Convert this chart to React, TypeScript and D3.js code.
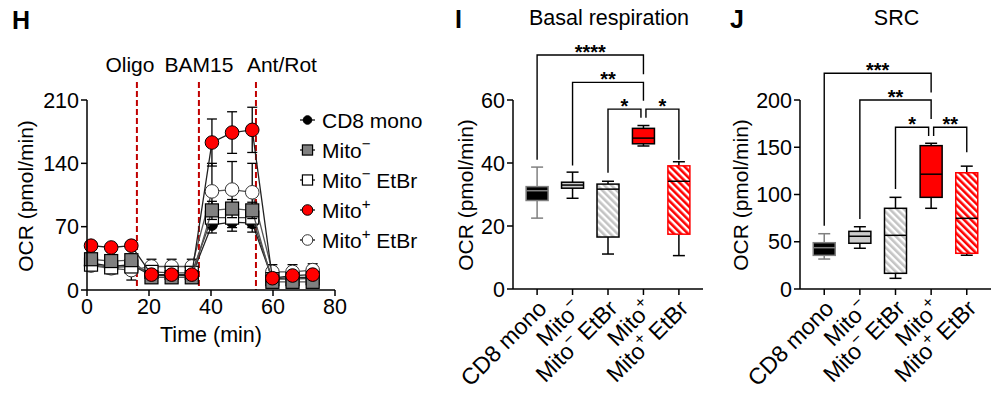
import React from "react";
import * as d3 from "d3";

const FONT = "'Liberation Sans', Arial, Helvetica, sans-serif";

// ---- panel H: OCR time course ----
const times = [1.3, 7.8, 14.3, 20.8, 27.3, 33.8, 40.3, 46.8, 53.3, 59.8, 66.3, 72.8];
const cd8Mean = [30, 26, 28, 16, 16, 16, 72, 75, 74, 12, 14, 14];
const cd8Sd = [4, 5, 5, 3, 3, 3, 9, 10, 10, 4, 4, 4];
const mitoNegMean = [34, 32, 33, 14, 14, 14, 88, 90, 88, 9, 9, 9];
const mitoNegSd = [5, 6, 4, 4, 4, 4, 10, 10, 9, 4, 4, 4];
const mitoNegEtbrMean = [28, 25, 26, 20, 19, 19, 80, 80, 80, 12, 12, 13];
const mitoNegEtbrSd = [4, 5, 5, 4, 4, 4, 11, 11, 11, 4, 4, 4];
const mitoPosMean = [49, 47, 49, 17, 17, 17, 163, 174, 177, 13, 16, 17];
const mitoPosSd = [3, 3, 3, 3, 3, 3, 26, 23, 25, 4, 4, 4];
const mitoPosEtbrMean = [27, 24, 22, 26, 26, 26, 109, 111, 108, 20, 20, 22];
const mitoPosEtbrSd = [5, 6, 11, 8, 8, 8, 31, 31, 32, 8, 8, 7];
const injectTimes = [16.1, 36.1, 54.5];
const injectLabels = ["Oligo", "BAM15", "Ant/Rot"];
const injectLabelShift = [-7, 0, 26];
const timeTicks = [0, 20, 40, 60, 80];
const ocrTicks = [0, 70, 140, 210];

// ---- panels I / J: box plots ----
const groups = ["CD8 mono", "Mito^-", "Mito^- EtBr", "Mito^+", "Mito^+ EtBr"];
const basalMin = [22.5, 28.8, 11.1, 45.4, 10.6];
const basalQ1 = [28.1, 32.0, 16.5, 46.1, 17.4];
const basalMed = [31.2, 33.0, 31.7, 47.9, 34.2];
const basalQ3 = [32.5, 33.9, 33.3, 51.0, 39.1];
const basalMax = [38.7, 37.1, 34.2, 51.9, 40.4];
const basalTicks = [0, 20, 40, 60];

const srcMin = [31.7, 43.1, 11.3, 85.4, 35.7];
const srcQ1 = [35.6, 48.4, 16.6, 97.0, 37.8];
const srcMed = [43.7, 55.8, 56.8, 121.5, 74.8];
const srcQ3 = [49.0, 61.0, 85.4, 151.7, 123.0];
const srcMax = [58.5, 65.9, 97.0, 154.2, 130.0];
const srcTicks = [0, 50, 100, 150, 200];

// significance brackets: [from, to, label, bar level, left leg end, right leg end]
const basalSig = [
  [0, 3, "****", 74.3, 41, 68.2],
  [1, 3, "**", 65.6, 39.2, 59.8],
  [2, 3, "*", 57.1, 36.9, 54.4],
  [3, 4, "*", 57.1, 54.4, 41],
];
const srcSig = [
  [0, 3, "***", 228.3, 67, 208],
  [1, 3, "**", 200, 74, 180],
  [2, 3, "*", 171.1, 105.8, 161.9],
  [3, 4, "**", 171.1, 161.9, 144.7],
];

const supText = (s, fs) => {
  const m = s.match(/^(.*?)\^([+-])(.*)$/);
  if (!m) return s;
  const sh = fs * 0.42;
  return [
    <tspan key="a">{m[1]}</tspan>,
    <tspan key="b" dy={-sh} fontSize={fs * 0.72}>{m[2] === "-" ? "\u2212" : "+"}</tspan>,
    <tspan key="c" dy={sh}>{m[3]}</tspan>,
  ];
};

const Marker = ({ kind, x, y, s = 1 }) => {
  if (kind === "cd8") return <circle cx={x} cy={y} r={5.5 * s} fill="#000" stroke="#000" />;
  if (kind === "neg") return <rect x={x - 6.5 * s} y={y - 6.5 * s} width={13 * s} height={13 * s} fill="#808080" stroke="#000" strokeWidth={1.2} />;
  if (kind === "negE") return <rect x={x - 6.5 * s} y={y - 6.5 * s} width={13 * s} height={13 * s} fill="#fff" stroke="#000" strokeWidth={1.2} />;
  if (kind === "pos") return <circle cx={x} cy={y} r={6.8 * s} fill="#ff0000" stroke="#000" strokeWidth={1} />;
  return <circle cx={x} cy={y} r={6.8 * s} fill="#fff" stroke="#333" strokeWidth={1} />;
};

const series = [
  { kind: "posE", name: "Mito^+ EtBr", mean: mitoPosEtbrMean, sd: mitoPosEtbrSd, line: "#555" },
  { kind: "cd8", name: "CD8 mono", mean: cd8Mean, sd: cd8Sd, line: "#222" },
  { kind: "negE", name: "Mito^- EtBr", mean: mitoNegEtbrMean, sd: mitoNegEtbrSd, line: "#444" },
  { kind: "neg", name: "Mito^-", mean: mitoNegMean, sd: mitoNegSd, line: "#555" },
  { kind: "pos", name: "Mito^+", mean: mitoPosMean, sd: mitoPosSd, line: "#222" },
];
const legendOrder = ["cd8", "neg", "negE", "pos", "posE"];

const TimeCourse = () => {
  const x = d3.scaleLinear().domain([0, 80]).range([87, 335]);
  const y = d3.scaleLinear().domain([0, 210]).range([290, 100]);
  const line = d3.line().x((d) => x(d[0])).y((d) => y(d[1]));
  return (
    <g>
      <text x={12} y={29} fontSize={25} fontWeight="bold">H</text>
      {injectTimes.map((t, i) => (
        <g key={i}>
          <line x1={x(t)} x2={x(t)} y1={82} y2={290} stroke="#c00000" strokeWidth={2} strokeDasharray="6,3" />
          <text x={x(t) + injectLabelShift[i]} y={72} fontSize={21} textAnchor="middle">{injectLabels[i]}</text>
        </g>
      ))}
      {series.map((s) => {
        const pts = times.map((t, i) => [t, s.mean[i]]);
        return (
          <g key={s.kind}>
            <path d={line(pts)} fill="none" stroke={s.line} strokeWidth={1.3} />
            {times.map((t, i) => (
              <g key={i} stroke="#000" strokeWidth={1.3}>
                <line x1={x(t)} x2={x(t)} y1={y(s.mean[i] + s.sd[i])} y2={y(s.mean[i] - s.sd[i])} />
                <line x1={x(t) - 5} x2={x(t) + 5} y1={y(s.mean[i] + s.sd[i])} y2={y(s.mean[i] + s.sd[i])} />
                <line x1={x(t) - 5} x2={x(t) + 5} y1={y(s.mean[i] - s.sd[i])} y2={y(s.mean[i] - s.sd[i])} />
              </g>
            ))}
            {times.map((t, i) => (
              <Marker key={"m" + i} kind={s.kind} x={x(t)} y={y(s.mean[i])} />
            ))}
          </g>
        );
      })}
      {/* axes */}
      <line x1={87} x2={87} y1={100} y2={290} stroke="#000" strokeWidth={1.5} />
      <line x1={87} x2={335} y1={290} y2={290} stroke="#000" strokeWidth={1.5} />
      {ocrTicks.map((v) => (
        <g key={v}>
          <line x1={81} x2={87} y1={y(v)} y2={y(v)} stroke="#000" strokeWidth={1.5} />
          <text x={79} y={y(v)} dy="0.36em" fontSize={21.5} textAnchor="end">{v}</text>
        </g>
      ))}
      {timeTicks.map((v) => (
        <g key={v}>
          <line x1={x(v)} x2={x(v)} y1={290} y2={296} stroke="#000" strokeWidth={1.5} />
          <text x={x(v)} y={314} fontSize={21.5} textAnchor="middle">{v}</text>
        </g>
      ))}
      <text x={211} y={342} fontSize={21.5} textAnchor="middle">Time (min)</text>
      <text transform="translate(33,196) rotate(-90)" fontSize={21} textAnchor="middle">OCR (pmol/min)</text>
      {/* legend */}
      {legendOrder.map((k, i) => {
        const s = series.find((d) => d.kind === k);
        const ly = 120 + i * 30;
        return (
          <g key={k}>
            <line x1={300} x2={315} y1={ly} y2={ly} stroke="#000" strokeWidth={1.2} />
            <Marker kind={k} x={307.5} y={ly} s={0.78} />
            <text x={322} y={ly + 7.5} fontSize={21}>{supText(s.name, 21)}</text>
          </g>
        );
      })}
    </g>
  );
};

const boxStyle = [
  { fill: "#000", stroke: "#808080", whisker: "#808080" },
  { fill: "#cccccc", stroke: "#000", whisker: "#000" },
  { fill: "url(#hatchGray)", stroke: "#000", whisker: "#000" },
  { fill: "#ff0000", stroke: "#000", whisker: "#000" },
  { fill: "url(#hatchRed)", stroke: "#ff0000", whisker: "#000" },
];

const BoxPanel = ({ letter, letterX, title, x0, x1, yMax, ticks, lo, q1, med, q3, hi, sig, ylabX }) => {
  const x = d3.scalePoint().domain(groups).range([x0, x1]).padding(0.68);
  const y = d3.scaleLinear().domain([0, yMax]).range([289, 100]);
  const bw = 22;
  return (
    <g>
      <text x={letterX} y={28} fontSize={25} fontWeight="bold">{letter}</text>
      <text x={(x0 + x1) / 2 + 1} y={25} fontSize={21.5} textAnchor="middle">{title}</text>
      {groups.map((g, i) => {
        const cx = x(g);
        const st = boxStyle[i];
        return (
          <g key={g}>
            <line x1={cx} x2={cx} y1={y(lo[i])} y2={y(hi[i])} stroke={st.whisker} strokeWidth={1.5} />
            <line x1={cx - 6} x2={cx + 6} y1={y(lo[i])} y2={y(lo[i])} stroke={st.whisker} strokeWidth={1.5} />
            <line x1={cx - 6} x2={cx + 6} y1={y(hi[i])} y2={y(hi[i])} stroke={st.whisker} strokeWidth={1.5} />
            <rect x={cx - bw / 2} y={y(q3[i])} width={bw} height={y(q1[i]) - y(q3[i])} fill={st.fill} stroke={st.stroke} strokeWidth={1.5} />
            <line x1={cx - bw / 2} x2={cx + bw / 2} y1={y(med[i])} y2={y(med[i])} stroke={i === 0 ? "#808080" : "#000"} strokeWidth={1.5} />
          </g>
        );
      })}
      {sig.map((b, k) => {
        const [a, c, lab, lvl, lEnd, rEnd] = b;
        const shared = sig.some((o, j) => j !== k && (o[0] === c || o[1] === a) && o[3] === lvl);
        const xa = x(groups[a]) + (shared && a === 3 ? 2.5 : 0);
        const xc = x(groups[c]) - (shared && c === 3 ? 2.5 : 0);
        return (
          <g key={k}>
            <path d={`M${xa},${y(lEnd)}V${y(lvl)}H${xc}V${y(rEnd)}`} fill="none" stroke="#000" strokeWidth={1.4} />
            <text x={(xa + xc) / 2} y={y(lvl) + 4} fontSize={20} fontWeight="bold" textAnchor="middle">{lab}</text>
          </g>
        );
      })}
      <line x1={x0} x2={x0} y1={100} y2={289} stroke="#000" strokeWidth={1.5} />
      <line x1={x0} x2={x1} y1={289} y2={289} stroke="#000" strokeWidth={1.5} />
      {ticks.map((v) => (
        <g key={v}>
          <line x1={x0 - 6} x2={x0} y1={y(v)} y2={y(v)} stroke="#000" strokeWidth={1.5} />
          <text x={x0 - 8} y={y(v)} dy="0.36em" fontSize={21.5} textAnchor="end">{v}</text>
        </g>
      ))}
      {groups.map((g) => (
        <g key={g}>
          <line x1={x(g)} x2={x(g)} y1={289} y2={295} stroke="#000" strokeWidth={1.5} />
          <text transform={`translate(${x(g) + 5},${304}) rotate(-45)`} fontSize={23} textAnchor="end" dy="0.36em">
            {supText(g, 23)}
          </text>
        </g>
      ))}
      <text transform={`translate(${ylabX},195) rotate(-90)`} fontSize={21} textAnchor="middle">OCR (pmol/min)</text>
    </g>
  );
};

export default function App() {
  return (
    <svg width={1006} height={398} style={{ position: "absolute", left: 0, top: 0, background: "#fff" }} fontFamily={FONT}>
      <defs>
        <pattern id="hatchGray" patternUnits="userSpaceOnUse" width={5} height={5} patternTransform="rotate(-45)">
          <rect width={5} height={5} fill="#fff" />
          <rect width={2.6} height={5} fill="#c4c4c4" />
        </pattern>
        <pattern id="hatchRed" patternUnits="userSpaceOnUse" width={5} height={5} patternTransform="rotate(-45)">
          <rect width={5} height={5} fill="#fff" />
          <rect width={2.6} height={5} fill="#ff0000" />
        </pattern>
      </defs>
      <rect width={1006} height={398} fill="#fff" />
      <TimeCourse />
      <BoxPanel letter="I" letterX={455} title="Basal respiration" x0={513} x1={703} yMax={60} ticks={basalTicks}
        lo={basalMin} q1={basalQ1} med={basalMed} q3={basalQ3} hi={basalMax} sig={basalSig} ylabX={473} />
      <BoxPanel letter="J" letterX={730} title="SRC" x0={800} x1={991} yMax={200} ticks={srcTicks}
        lo={srcMin} q1={srcQ1} med={srcMed} q3={srcQ3} hi={srcMax} sig={srcSig} ylabX={748} />
    </svg>
  );
}
